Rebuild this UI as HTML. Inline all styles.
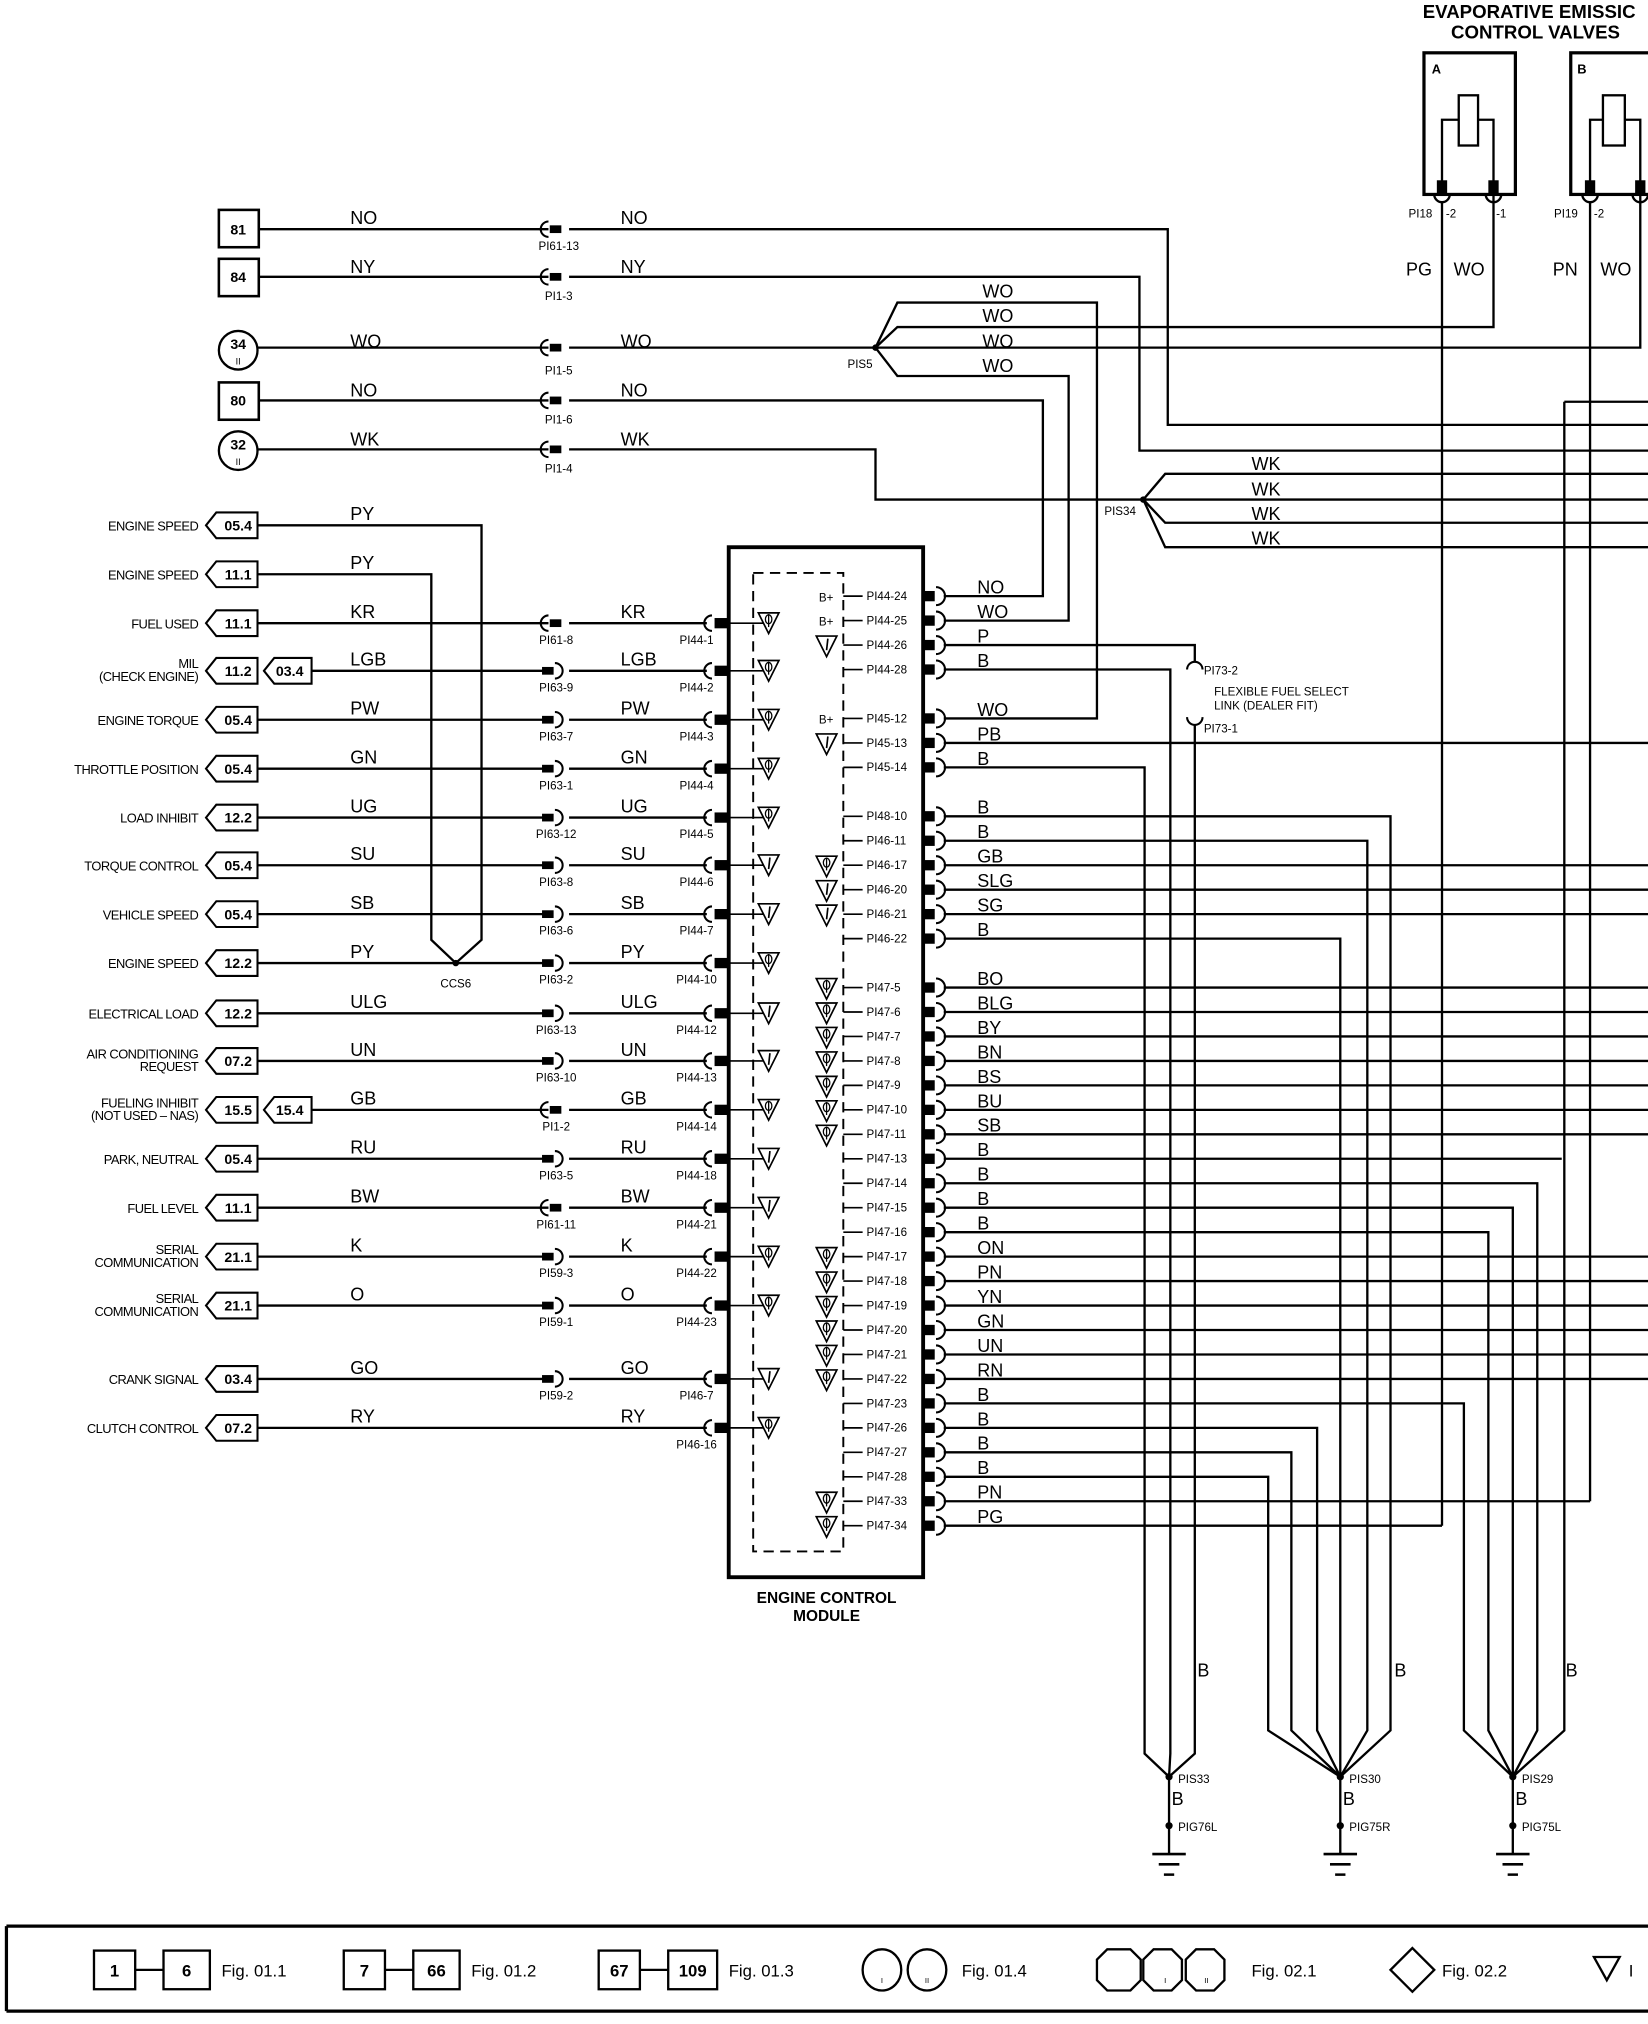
<!DOCTYPE html>
<html><head><meta charset="utf-8"><style>
html,body{margin:0;padding:0;background:#fff;}
svg{display:block;}
text{font-family:"Liberation Sans",sans-serif;fill:#000;}
.w{font-size:14px;}
.s{font-size:9px;}
.l{font-size:10px;letter-spacing:-0.4px;}
.t{font-size:11px;font-weight:bold;}
</style></head><body>
<svg width="1648" height="2024" viewBox="0 0 1280 1572" xmlns="http://www.w3.org/2000/svg">
<defs>
<g id="cA"><path d="M5,-6 A6,6 0 0 0 5,6" fill="none" stroke="#000" stroke-width="1.6"/><rect x="6" y="-3" width="9" height="6"/></g>
<g id="cB"><rect x="0" y="-3" width="9" height="6"/><path d="M10,-6 A6,6 0 0 1 10,6" fill="none" stroke="#000" stroke-width="1.6"/></g>
<g id="cE"><path d="M0,-6 A6,6 0 0 0 0,6" fill="none" stroke="#000" stroke-width="1.6"/><rect x="2" y="-4" width="10" height="8"/></g>
<g id="cR"><rect x="0" y="-4" width="9" height="8"/><path d="M10,-7 A7,7 0 0 1 10,7" fill="none" stroke="#000" stroke-width="1.6"/></g>
<g id="t1"><polygon points="0,0 16,0 8,16" fill="#fff" stroke="#000" stroke-width="1.3"/><ellipse cx="8" cy="5" rx="2.5" ry="3.5" fill="none" stroke="#000" stroke-width="1"/><line x1="8" y1="1" x2="8" y2="11" stroke="#000"/></g>
<g id="t2"><polygon points="0,0 16,0 8,16" fill="#fff" stroke="#000" stroke-width="1.3"/><line x1="9" y1="2" x2="8" y2="11" stroke="#000" stroke-width="1.3"/></g>
</defs>

<g stroke="#000" fill="none" stroke-width="1.8">
<rect x="170" y="163" width="31" height="29" stroke-width="2"/>
<rect x="170" y="201" width="31" height="29" stroke-width="2"/>
<circle cx="185" cy="272" r="15"/>
<rect x="170" y="297" width="31" height="29" stroke-width="2"/>
<circle cx="185" cy="350" r="15"/>
<polyline points="201,178 426,178"/><polyline points="442,178 907,178 907,330 1280,330"/>
<polyline points="201,215 426,215"/><polyline points="442,215 885,215 885,350 1280,350"/>
<polyline points="200,270 426,270"/><polyline points="442,270 680,270"/>
<polyline points="201,311 426,311"/><polyline points="442,311 810,311 810,463 733,463"/>
<polyline points="200,349 426,349"/><polyline points="442,349 680,349 680,388 888,388"/>
<polyline points="680,270 697,235 852,235 852,558 733,558"/>
<polyline points="680,270 697,254 1160,254 1160,152"/>
<polyline points="680,270 1274,270 1274,152"/>
<polyline points="680,270 697,292 830,292 830,482 733,482"/>
<polyline points="888,388 905,368 1280,368"/>
<polyline points="888,388 1280,388"/>
<polyline points="888,388 905,406 1280,406"/>
<polyline points="888,388 905,425 1280,425"/>
<rect x="1106" y="41" width="71" height="110" stroke-width="2.5"/>
<rect x="1133" y="74" width="15" height="39"/>
<polyline points="1120,142 1120,93 1133,93"/><polyline points="1148,93 1160,93 1160,142"/>
<rect x="1220" y="41" width="80" height="110" stroke-width="2.5"/>
<rect x="1245" y="74" width="17" height="39"/>
<polyline points="1235,142 1235,93 1245,93"/><polyline points="1262,93 1274,93 1274,142"/>
<path d="M1114,151 A6,6 0 0 0 1126,151 M1154,151 A6,6 0 0 0 1166,151 M1229,151 A6,6 0 0 0 1241,151 M1268,151 A6,6 0 0 0 1280,151"/>
<line x1="1120" y1="157" x2="1120" y2="1185"/>
<line x1="1120" y1="1185" x2="733" y2="1185"/>
<line x1="1235" y1="157" x2="1235" y2="1166"/>
<line x1="1235" y1="1166" x2="733" y2="1166"/>
<polyline points="200,408 374,408 374,730 354,748 335,730 335,446 200,446"/>
<rect x="566" y="425" width="151" height="800" stroke-width="3"/>
<rect x="585" y="445" width="70" height="760" stroke-dasharray="8,5" stroke-width="1.5"/>
</g>

<g fill="#000">
<use href="#cA" x="421" y="178"/><use href="#cA" x="421" y="215"/><use href="#cA" x="421" y="270"/><use href="#cA" x="421" y="311"/><use href="#cA" x="421" y="349"/>
<circle cx="680" cy="270" r="2.5"/><circle cx="888" cy="388" r="2.5"/><circle cx="354" cy="748" r="2.5"/>
<rect x="1116" y="140" width="8" height="11"/><rect x="1156" y="140" width="8" height="11"/><rect x="1231" y="140" width="8" height="11"/><rect x="1270" y="140" width="8" height="11"/>
</g>

<g class="w">
<text x="272" y="174">NO</text><text x="482" y="174">NO</text>
<text x="272" y="212">NY</text><text x="482" y="212">NY</text>
<text x="272" y="270">WO</text><text x="482" y="270">WO</text>
<text x="272" y="308">NO</text><text x="482" y="308">NO</text>
<text x="272" y="346">WK</text><text x="482" y="346">WK</text>
<text x="763" y="231">WO</text><text x="763" y="250">WO</text><text x="763" y="270">WO</text><text x="763" y="289">WO</text>
<text x="972" y="365">WK</text><text x="972" y="385">WK</text><text x="972" y="404">WK</text><text x="972" y="423">WK</text>
<text x="1092" y="214">PG</text><text x="1129" y="214">WO</text><text x="1206" y="214">PN</text><text x="1243" y="214">WO</text>
</g>
<g class="t" text-anchor="middle">
<text x="185" y="182">81</text><text x="185" y="219">84</text><text x="185" y="271">34</text><text x="185" y="315">80</text><text x="185" y="349">32</text>
</g>
<g class="s" text-anchor="middle">
<text x="185" y="283" font-size="7">II</text><text x="185" y="361" font-size="7">II</text>
<text x="434" y="194">PI61-13</text><text x="434" y="233">PI1-3</text><text x="434" y="291">PI1-5</text><text x="434" y="329">PI1-6</text><text x="434" y="367">PI1-4</text>
<text x="668" y="286">PIS5</text><text x="870" y="400">PIS34</text><text x="354" y="767">CCS6</text>
</g>
<g class="s">
<text x="1094" y="169">PI18</text><text x="1123" y="169">-2</text><text x="1162" y="169">-1</text>
<text x="1207" y="169">PI19</text><text x="1238" y="169">-2</text>
</g>
<g font-family="Liberation Sans" font-weight="bold" font-size="14.5">
<text x="1105" y="14">EVAPORATIVE EMISSIC</text><text x="1127" y="30">CONTROL VALVES</text>
<text x="1112" y="57" font-size="10">A</text><text x="1225" y="57" font-size="10">B</text>
</g>

<g stroke="#000" fill="none" stroke-width="1.8">
<path d="M160,408 l8,-10 h32 v20 h-32z M160,446 l8,-10 h32 v20 h-32z M160,484 l8,-10 h32 v20 h-32z M160,521 l8,-10 h32 v20 h-32z M205,521 l8,-10 h29 v20 h-29z M160,559 l8,-10 h32 v20 h-32z M160,597 l8,-10 h32 v20 h-32z M160,635 l8,-10 h32 v20 h-32z M160,672 l8,-10 h32 v20 h-32z M160,710 l8,-10 h32 v20 h-32z M160,748 l8,-10 h32 v20 h-32z M160,787 l8,-10 h32 v20 h-32z M160,824 l8,-10 h32 v20 h-32z M160,862 l8,-10 h32 v20 h-32z M205,862 l8,-10 h29 v20 h-29z M160,900 l8,-10 h32 v20 h-32z M160,938 l8,-10 h32 v20 h-32z M160,976 l8,-10 h32 v20 h-32z M160,1014 l8,-10 h32 v20 h-32z M160,1071 l8,-10 h32 v20 h-32z M160,1109 l8,-10 h32 v20 h-32z" stroke-width="1.6"/>
<path d="M200,484H426M442,484H549 M242,521H426M442,521H549 M200,559H426M442,559H549 M200,597H426M442,597H549 M200,635H426M442,635H549 M200,672H426M442,672H549 M200,710H426M442,710H549 M200,748H426M442,748H549 M200,787H426M442,787H549 M200,824H426M442,824H549 M242,862H426M442,862H549 M200,900H426M442,900H549 M200,938H426M442,938H549 M200,976H426M442,976H549 M200,1014H426M442,1014H549 M200,1071H426M442,1071H549 M200,1109H549"/>
<path d="M566,484H597M566,521H597M566,559H597M566,597H597M566,635H597M566,672H597M566,710H597M566,748H597M566,787H597M566,824H597M566,862H597M566,900H597M566,938H597M566,976H597M566,1014H597M566,1071H597M566,1109H597" stroke-width="1.3"/>
</g>
<g class="t" text-anchor="middle" font-size="10.5">
<text x="185" y="412">05.4</text><text x="185" y="450">11.1</text><text x="185" y="488">11.1</text><text x="185" y="525">11.2</text><text x="225" y="525">03.4</text><text x="185" y="563">05.4</text><text x="185" y="601">05.4</text><text x="185" y="639">12.2</text><text x="185" y="676">05.4</text><text x="185" y="714">05.4</text><text x="185" y="752">12.2</text><text x="185" y="791">12.2</text><text x="185" y="828">07.2</text><text x="185" y="866">15.5</text><text x="225" y="866">15.4</text><text x="185" y="904">05.4</text><text x="185" y="942">11.1</text><text x="185" y="980">21.1</text><text x="185" y="1018">21.1</text><text x="185" y="1075">03.4</text><text x="185" y="1113">07.2</text>
</g>
<g class="l" text-anchor="end">
<text x="154" y="412">ENGINE SPEED</text><text x="154" y="450">ENGINE SPEED</text><text x="154" y="488">FUEL USED</text><text x="154" y="519">MIL</text><text x="154" y="529">(CHECK ENGINE)</text><text x="154" y="563">ENGINE TORQUE</text><text x="154" y="601">THROTTLE POSITION</text><text x="154" y="639">LOAD INHIBIT</text><text x="154" y="676">TORQUE CONTROL</text><text x="154" y="714">VEHICLE SPEED</text><text x="154" y="752">ENGINE SPEED</text><text x="154" y="791">ELECTRICAL LOAD</text><text x="154" y="822">AIR CONDITIONING</text><text x="154" y="832">REQUEST</text><text x="154" y="860">FUELING INHIBIT</text><text x="154" y="870">(NOT USED – NAS)</text><text x="154" y="904">PARK, NEUTRAL</text><text x="154" y="942">FUEL LEVEL</text><text x="154" y="974">SERIAL</text><text x="154" y="984">COMMUNICATION</text><text x="154" y="1012">SERIAL</text><text x="154" y="1022">COMMUNICATION</text><text x="154" y="1075">CRANK SIGNAL</text><text x="154" y="1113">CLUTCH CONTROL</text>
</g>
<g class="w">
<text x="272" y="404">PY</text><text x="272" y="442">PY</text>
<text x="272" y="480">KR</text><text x="482" y="480">KR</text>
<text x="272" y="517">LGB</text><text x="482" y="517">LGB</text>
<text x="272" y="555">PW</text><text x="482" y="555">PW</text>
<text x="272" y="593">GN</text><text x="482" y="593">GN</text>
<text x="272" y="631">UG</text><text x="482" y="631">UG</text>
<text x="272" y="668">SU</text><text x="482" y="668">SU</text>
<text x="272" y="706">SB</text><text x="482" y="706">SB</text>
<text x="272" y="744">PY</text><text x="482" y="744">PY</text>
<text x="272" y="783">ULG</text><text x="482" y="783">ULG</text>
<text x="272" y="820">UN</text><text x="482" y="820">UN</text>
<text x="272" y="858">GB</text><text x="482" y="858">GB</text>
<text x="272" y="896">RU</text><text x="482" y="896">RU</text>
<text x="272" y="934">BW</text><text x="482" y="934">BW</text>
<text x="272" y="972">K</text><text x="482" y="972">K</text>
<text x="272" y="1010">O</text><text x="482" y="1010">O</text>
<text x="272" y="1067">GO</text><text x="482" y="1067">GO</text>
<text x="272" y="1105">RY</text><text x="482" y="1105">RY</text>
</g>
<g fill="#000">
<use href="#cA" x="421" y="484"/><use href="#cB" x="421" y="521"/><use href="#cB" x="421" y="559"/><use href="#cB" x="421" y="597"/><use href="#cB" x="421" y="635"/><use href="#cB" x="421" y="672"/><use href="#cB" x="421" y="710"/><use href="#cB" x="421" y="748"/><use href="#cB" x="421" y="787"/><use href="#cB" x="421" y="824"/><use href="#cA" x="421" y="862"/><use href="#cB" x="421" y="900"/><use href="#cA" x="421" y="938"/><use href="#cB" x="421" y="976"/><use href="#cB" x="421" y="1014"/><use href="#cB" x="421" y="1071"/>
<use href="#cE" x="553" y="484"/><use href="#cE" x="553" y="521"/><use href="#cE" x="553" y="559"/><use href="#cE" x="553" y="597"/><use href="#cE" x="553" y="635"/><use href="#cE" x="553" y="672"/><use href="#cE" x="553" y="710"/><use href="#cE" x="553" y="748"/><use href="#cE" x="553" y="787"/><use href="#cE" x="553" y="824"/><use href="#cE" x="553" y="862"/><use href="#cE" x="553" y="900"/><use href="#cE" x="553" y="938"/><use href="#cE" x="553" y="976"/><use href="#cE" x="553" y="1014"/><use href="#cE" x="553" y="1071"/><use href="#cE" x="553" y="1109"/>
</g>
<g>
<use href="#t1" x="589" y="476"/><use href="#t1" x="589" y="513"/><use href="#t1" x="589" y="551"/><use href="#t1" x="589" y="589"/><use href="#t1" x="589" y="627"/><use href="#t2" x="589" y="664"/><use href="#t2" x="589" y="702"/><use href="#t1" x="589" y="740"/><use href="#t2" x="589" y="779"/><use href="#t2" x="589" y="816"/><use href="#t1" x="589" y="854"/><use href="#t2" x="589" y="892"/><use href="#t2" x="589" y="930"/><use href="#t1" x="589" y="968"/><use href="#t1" x="589" y="1006"/><use href="#t2" x="589" y="1063"/><use href="#t1" x="589" y="1101"/>
</g>
<g class="s" text-anchor="middle">
<text x="432" y="500">PI61-8</text><text x="432" y="537">PI63-9</text><text x="432" y="575">PI63-7</text><text x="432" y="613">PI63-1</text><text x="432" y="651">PI63-12</text><text x="432" y="688">PI63-8</text><text x="432" y="726">PI63-6</text><text x="432" y="764">PI63-2</text><text x="432" y="803">PI63-13</text><text x="432" y="840">PI63-10</text><text x="432" y="878">PI1-2</text><text x="432" y="916">PI63-5</text><text x="432" y="954">PI61-11</text><text x="432" y="992">PI59-3</text><text x="432" y="1030">PI59-1</text><text x="432" y="1087">PI59-2</text>
<text x="541" y="500">PI44-1</text><text x="541" y="537">PI44-2</text><text x="541" y="575">PI44-3</text><text x="541" y="613">PI44-4</text><text x="541" y="651">PI44-5</text><text x="541" y="688">PI44-6</text><text x="541" y="726">PI44-7</text><text x="541" y="764">PI44-10</text><text x="541" y="803">PI44-12</text><text x="541" y="840">PI44-13</text><text x="541" y="878">PI44-14</text><text x="541" y="916">PI44-18</text><text x="541" y="954">PI44-21</text><text x="541" y="992">PI44-22</text><text x="541" y="1030">PI44-23</text><text x="541" y="1087">PI46-7</text><text x="541" y="1125">PI46-16</text>
</g>

<g stroke="#000" stroke-width="1.3" fill="none">
<path d="M655,463h15M655,482h15M655,501h15M655,520h15M655,558h15M655,577h15M655,596h15M655,634h15M655,653h15M655,672h15M655,691h15M655,710h15M655,729h15M655,767h15M655,786h15M655,805h15M655,824h15M655,843h15M655,862h15M655,881h15M655,900h15M655,919h15M655,938h15M655,957h15M655,976h15M655,995h15M655,1014h15M655,1033h15M655,1052h15M655,1071h15M655,1090h15M655,1109h15M655,1128h15M655,1147h15M655,1166h15M655,1185h15"/>
</g>
<g fill="#000">
<use href="#cR" x="717" y="463"/><use href="#cR" x="717" y="482"/><use href="#cR" x="717" y="501"/><use href="#cR" x="717" y="520"/><use href="#cR" x="717" y="558"/><use href="#cR" x="717" y="577"/><use href="#cR" x="717" y="596"/><use href="#cR" x="717" y="634"/><use href="#cR" x="717" y="653"/><use href="#cR" x="717" y="672"/><use href="#cR" x="717" y="691"/><use href="#cR" x="717" y="710"/><use href="#cR" x="717" y="729"/><use href="#cR" x="717" y="767"/><use href="#cR" x="717" y="786"/><use href="#cR" x="717" y="805"/><use href="#cR" x="717" y="824"/><use href="#cR" x="717" y="843"/><use href="#cR" x="717" y="862"/><use href="#cR" x="717" y="881"/><use href="#cR" x="717" y="900"/><use href="#cR" x="717" y="919"/><use href="#cR" x="717" y="938"/><use href="#cR" x="717" y="957"/><use href="#cR" x="717" y="976"/><use href="#cR" x="717" y="995"/><use href="#cR" x="717" y="1014"/><use href="#cR" x="717" y="1033"/><use href="#cR" x="717" y="1052"/><use href="#cR" x="717" y="1071"/><use href="#cR" x="717" y="1090"/><use href="#cR" x="717" y="1109"/><use href="#cR" x="717" y="1128"/><use href="#cR" x="717" y="1147"/><use href="#cR" x="717" y="1166"/><use href="#cR" x="717" y="1185"/>
</g>
<g class="s">
<text x="673" y="466">PI44-24</text><text x="673" y="485">PI44-25</text><text x="673" y="504">PI44-26</text><text x="673" y="523">PI44-28</text><text x="673" y="561">PI45-12</text><text x="673" y="580">PI45-13</text><text x="673" y="599">PI45-14</text><text x="673" y="637">PI48-10</text><text x="673" y="656">PI46-11</text><text x="673" y="675">PI46-17</text><text x="673" y="694">PI46-20</text><text x="673" y="713">PI46-21</text><text x="673" y="732">PI46-22</text><text x="673" y="770">PI47-5</text><text x="673" y="789">PI47-6</text><text x="673" y="808">PI47-7</text><text x="673" y="827">PI47-8</text><text x="673" y="846">PI47-9</text><text x="673" y="865">PI47-10</text><text x="673" y="884">PI47-11</text><text x="673" y="903">PI47-13</text><text x="673" y="922">PI47-14</text><text x="673" y="941">PI47-15</text><text x="673" y="960">PI47-16</text><text x="673" y="979">PI47-17</text><text x="673" y="998">PI47-18</text><text x="673" y="1017">PI47-19</text><text x="673" y="1036">PI47-20</text><text x="673" y="1055">PI47-21</text><text x="673" y="1074">PI47-22</text><text x="673" y="1093">PI47-23</text><text x="673" y="1112">PI47-26</text><text x="673" y="1131">PI47-27</text><text x="673" y="1150">PI47-28</text><text x="673" y="1169">PI47-33</text><text x="673" y="1188">PI47-34</text>
<text x="636" y="467">B+</text><text x="636" y="486">B+</text><text x="636" y="562">B+</text>
</g>
<g>
<use href="#t2" x="634" y="494"/><use href="#t2" x="634" y="570"/><use href="#t1" x="634" y="665"/><use href="#t2" x="634" y="684"/><use href="#t2" x="634" y="703"/><use href="#t1" x="634" y="760"/><use href="#t1" x="634" y="779"/><use href="#t1" x="634" y="798"/><use href="#t1" x="634" y="817"/><use href="#t1" x="634" y="836"/><use href="#t1" x="634" y="855"/><use href="#t1" x="634" y="874"/><use href="#t1" x="634" y="969"/><use href="#t1" x="634" y="988"/><use href="#t1" x="634" y="1007"/><use href="#t1" x="634" y="1026"/><use href="#t1" x="634" y="1045"/><use href="#t1" x="634" y="1064"/><use href="#t1" x="634" y="1159"/><use href="#t1" x="634" y="1178"/>
</g>
<g class="w">
<text x="759" y="461">NO</text><text x="759" y="480">WO</text><text x="759" y="499">P</text><text x="759" y="518">B</text><text x="759" y="556">WO</text><text x="759" y="575">PB</text><text x="759" y="594">B</text><text x="759" y="632">B</text><text x="759" y="651">B</text><text x="759" y="670">GB</text><text x="759" y="689">SLG</text><text x="759" y="708">SG</text><text x="759" y="727">B</text><text x="759" y="765">BO</text><text x="759" y="784">BLG</text><text x="759" y="803">BY</text><text x="759" y="822">BN</text><text x="759" y="841">BS</text><text x="759" y="860">BU</text><text x="759" y="879">SB</text><text x="759" y="898">B</text><text x="759" y="917">B</text><text x="759" y="936">B</text><text x="759" y="955">B</text><text x="759" y="974">ON</text><text x="759" y="993">PN</text><text x="759" y="1012">YN</text><text x="759" y="1031">GN</text><text x="759" y="1050">UN</text><text x="759" y="1069">RN</text><text x="759" y="1088">B</text><text x="759" y="1107">B</text><text x="759" y="1126">B</text><text x="759" y="1145">B</text><text x="759" y="1164">PN</text><text x="759" y="1183">PG</text>
</g>
<g font-weight="bold" font-size="12" text-anchor="middle"><text x="642" y="1245">ENGINE CONTROL</text><text x="642" y="1259">MODULE</text></g>

<g stroke="#000" fill="none" stroke-width="1.8">
<path d="M733,501H928V514 M733,520H909V1362L908,1380 M733,577H1280 M733,596H889V1362L908,1380 M928,563V1362L908,1380"/>
<path d="M922,520 A6,6 0 0 1 934,520 M922,557 A6,6 0 0 0 934,557" stroke-width="1.6"/>
<path d="M733,634H1080V1344L1041,1380 M733,653H1062V1344L1041,1380 M733,672H1280M733,691H1280M733,710H1280 M733,729H1041V1380"/>
<path d="M733,767H1280M733,786H1280M733,805H1280M733,824H1280M733,843H1280M733,862H1280M733,881H1280"/>
<path d="M733,900H1213 M1215,312H1280 M1215,312V1344L1175,1380 M733,919H1194V1344L1175,1380 M733,938H1175V1380 M733,957H1156V1344L1175,1380 M733,1090H1137V1344L1175,1380"/>
<path d="M733,976H1280M733,995H1280M733,1014H1280M733,1033H1280M733,1052H1280M733,1071H1280"/>
<path d="M733,1109H1023V1344L1041,1380 M733,1128H1003V1344L1041,1380 M733,1147H985V1344L1041,1380"/>
<path d="M908,1380V1440 M1041,1380V1440 M1175,1380V1440"/>
<path d="M895,1440h26M900,1448h16M904,1456h8 M1028,1440h26M1033,1448h16M1037,1456h8 M1162,1440h26M1167,1448h16M1171,1456h8" stroke-width="2"/>
</g>
<g fill="#000"><circle cx="908" cy="1380" r="2.8"/><circle cx="1041" cy="1380" r="2.8"/><circle cx="1175" cy="1380" r="2.8"/><circle cx="908" cy="1418" r="2.8"/><circle cx="1041" cy="1418" r="2.8"/><circle cx="1175" cy="1418" r="2.8"/></g>
<g class="w"><text x="930" y="1302">B</text><text x="1083" y="1302">B</text><text x="1216" y="1302">B</text><text x="910" y="1402">B</text><text x="1043" y="1402">B</text><text x="1177" y="1402">B</text></g>
<g class="s"><text x="915" y="1385">PIS33</text><text x="1048" y="1385">PIS30</text><text x="1182" y="1385">PIS29</text><text x="915" y="1422">PIG76L</text><text x="1048" y="1422">PIG75R</text><text x="1182" y="1422">PIG75L</text>
<text x="935" y="524">PI73-2</text><text x="935" y="569">PI73-1</text><text x="943" y="540">FLEXIBLE FUEL SELECT</text><text x="943" y="551">LINK (DEALER FIT)</text></g>

<g stroke="#000" fill="none" stroke-width="1.8">
<path d="M5,1496H1280 M5,1562H1280 M5,1496V1562" stroke-width="2.5"/>
<rect x="73" y="1515" width="32" height="30"/><path d="M105,1530h22"/><rect x="127" y="1515" width="36" height="30"/>
<rect x="267" y="1515" width="32" height="30"/><path d="M299,1530h22"/><rect x="321" y="1515" width="36" height="30"/>
<rect x="465" y="1515" width="32" height="30"/><path d="M497,1530h22"/><rect x="519" y="1515" width="38" height="30"/>
<ellipse cx="685" cy="1530" rx="15" ry="16"/><ellipse cx="720" cy="1530" rx="15" ry="16"/>
<path d="M852,1522l8,-8h18l8,8v16l-8,8h-18l-8,-8z M888,1522l8,-8h14l8,8v16l-8,8h-14l-8,-8z M921,1522l8,-8h14l8,8v16l-8,8h-14l-8,-8z"/>
<path d="M1097,1513l17,17l-17,17l-17,-17z"/>
<path d="M1238,1520h20l-10,18z"/>
</g>
<g font-size="13"><text x="172" y="1535">Fig. 01.1</text><text x="366" y="1535">Fig. 01.2</text><text x="566" y="1535">Fig. 01.3</text><text x="747" y="1535">Fig. 01.4</text><text x="972" y="1535">Fig. 02.1</text><text x="1120" y="1535">Fig. 02.2</text><text x="1265" y="1535">I</text></g>
<g font-size="13" font-weight="bold" text-anchor="middle"><text x="89" y="1535">1</text><text x="145" y="1535">6</text><text x="283" y="1535">7</text><text x="339" y="1535">66</text><text x="481" y="1535">67</text><text x="538" y="1535">109</text></g>
<g font-size="6" text-anchor="middle"><text x="685" y="1540">I</text><text x="720" y="1540">II</text><text x="905" y="1540">I</text><text x="937" y="1540">II</text></g>
</svg>
</body></html>
